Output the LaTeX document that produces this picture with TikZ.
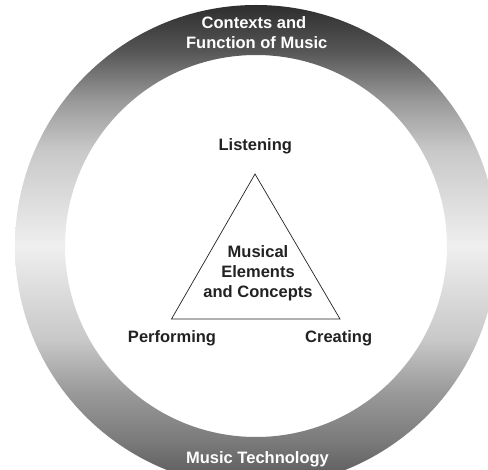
\documentclass[tikz,border=0pt]{standalone}
\usepackage{fontspec}
\setmainfont{Liberation Sans}
\definecolor{sA}{HTML}{484848}
\definecolor{sB}{HTML}{626262}
\definecolor{sC}{HTML}{7A7A7A}
\definecolor{sD}{HTML}{9A9A9A}
\definecolor{sE}{HTML}{C8C8C8}
\definecolor{sF}{HTML}{EFEFEF}
\definecolor{sG}{HTML}{C8C8C8}
\definecolor{sH}{HTML}{999999}
\definecolor{sI}{HTML}{555555}
\definecolor{sJ}{HTML}{2E2E2E}
\definecolor{inkc}{HTML}{222222}
\pgfdeclareverticalshading{ringshade}{100bp}{color(0bp)=(sA); color(25bp)=(sA); color(26.7bp)=(sB); color(29.7bp)=(sC); color(34.9bp)=(sD); color(40.3bp)=(sE); color(50bp)=(sF); color(60bp)=(sG); color(65.1bp)=(sH); color(70.3bp)=(sI); color(75bp)=(sJ); color(100bp)=(sJ)}
\tikzset{
  lbl/.style={font=\fontsize{16.5}{20}\selectfont\bfseries, text=inkc, inner sep=0pt, align=center},
  ringlbl/.style={lbl, text=white},
  tri/.style={draw=inkc, line width=0.7pt, line join=miter}
}
\begin{document}
\begin{tikzpicture}[x=1pt,y=-1pt]
\useasboundingbox (0,0) rectangle (488,470);
\clip (0,0) rectangle (488,470);
\fill[white] (0,0) rectangle (488,470);
\coordinate (c) at (256,246);
\path[shading=ringshade, even odd rule] (c) circle[radius=241] (c) circle[radius=191];
\coordinate (apex) at (255,174);
\coordinate (bl) at (171.5,319);
\coordinate (br) at (340,319);
\draw[tri] (apex) -- (bl) -- (br) -- cycle;
\node[ringlbl, anchor=base] (ctx1) at (254,28.3) {Contexts and};
\node[ringlbl, anchor=base] (ctx2) at (256.7,48.3) {Function of Music};
\node[ringlbl, anchor=base] (tech) at (257.5,464) {Music Technology};
\node[lbl, anchor=base] (listen) at (255.3,150.7) {Listening};
\node[lbl, anchor=base] (perf) at (172,343) {Performing};
\node[lbl, anchor=base] (creat) at (338.7,343) {Creating};
\node[lbl] (core) at (258,273.5) {Musical\\Elements\\and Concepts};
\end{tikzpicture}
\end{document}
